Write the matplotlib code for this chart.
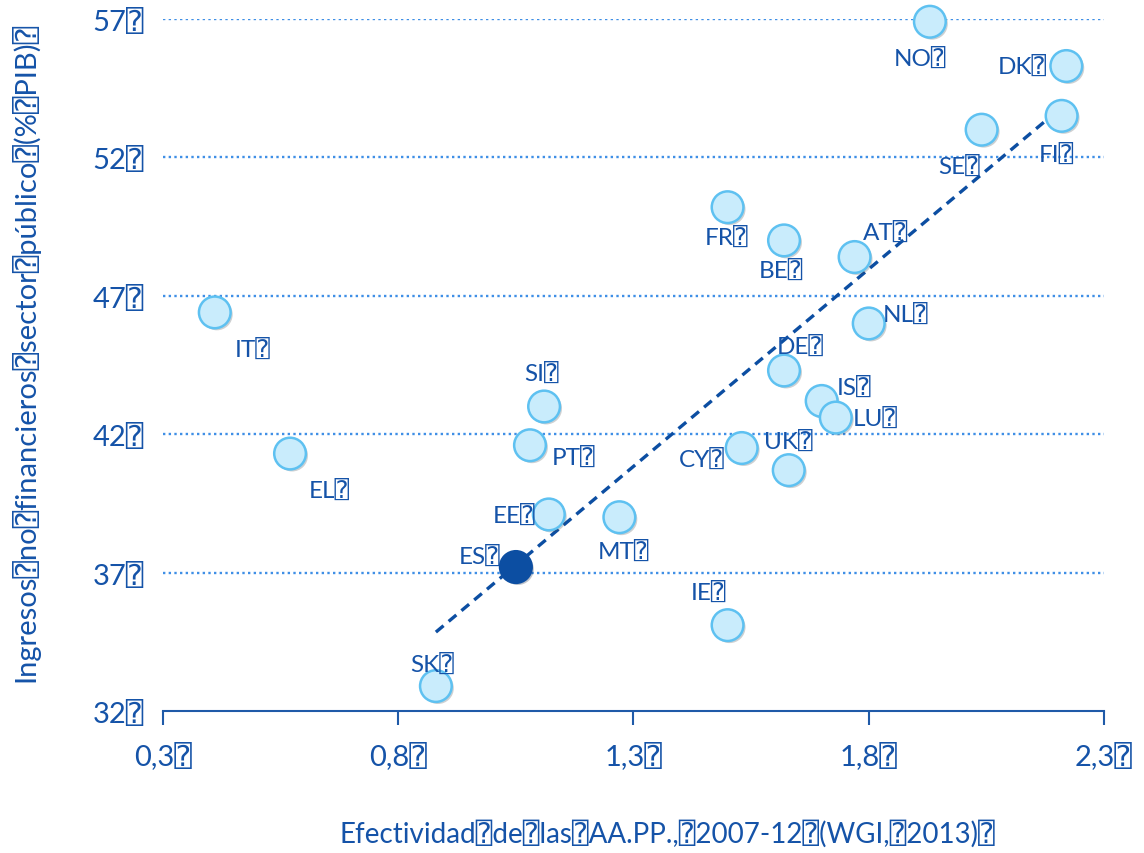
import matplotlib.pyplot as plt
import matplotlib.patheffects as pe

# WGI government effectiveness (x) vs non-financial revenue % GDP (y)
countries = ["NO", "DK", "FI", "SE", "FR", "BE", "AT", "NL", "IT", "DE", "SI",
             "IS", "LU", "PT", "CY", "EL", "UK", "EE", "MT", "ES", "IE", "SK"]
efectividad = [1.93, 2.22, 2.21, 2.04, 1.50, 1.62, 1.77, 1.80, 0.41, 1.62, 1.11,
               1.70, 1.73, 1.08, 1.53, 0.57, 1.63, 1.12, 1.27, 1.05, 1.50, 0.88]
ingresos = [56.9, 55.3, 53.5, 53.0, 50.2, 49.0, 48.4, 46.0, 46.4, 44.3, 43.0,
            43.2, 42.6, 41.6, 41.5, 41.3, 40.7, 39.1, 39.0, 37.2, 35.1, 32.9]
# label offsets in points (dx, dy) and alignment
label_pos = {
    "NO": (-7, -26, "center"), "DK": (-14, 0, "right"), "FI": (-4, -27, "center"),
    "SE": (-16, -26, "center"), "FR": (-1, -21, "center"), "BE": (-2, -21, "center"),
    "AT": (22, 18, "center"), "NL": (10, 7, "left"), "IT": (27, -26, "center"),
    "DE": (12, 18, "center"), "SI": (-2, 24, "center"), "IS": (23, 10, "center"),
    "LU": (12, 0, "left"), "PT": (16, -8, "left"), "CY": (-12, -8, "right"),
    "EL": (28, -26, "center"), "UK": (0, 21, "center"), "EE": (-10, 0, "right"),
    "MT": (3, -24, "center"), "ES": (-11, 8, "right"), "IE": (-14, 24, "center"),
    "SK": (-3, 16, "center"),
}
trend_x = [0.88, 2.22]
trend_y = [34.85, 53.95]

xticks = [0.3, 0.8, 1.3, 1.8, 2.3]
yticks = [32, 37, 42, 47, 52, 57]

BOX = "\u2370"
C_TXT = "#1553a8"
plt.rcParams['font.family'] = ['Lato', 'DejaVu Sans', 'DejaVu Sans Mono']

fig = plt.figure(figsize=(11.44, 8.54), dpi=100)
ax = fig.add_axes([0.1425, 0.1663, 0.8225, 0.8103])

for y in yticks[1:]:
    ax.axhline(y, color="#3f8fe6", lw=1.7, ls=(0, (1, 1.4)), zorder=1)

shadow = [pe.SimplePatchShadow(offset=(1.5, -1.5), alpha=0.25), pe.Normal()]
for c, x, y in zip(countries, efectividad, ingresos):
    es = c == "ES"
    ax.scatter([x], [y], s=520, color="#0c4ea2" if es else "#c9ecfc",
               edgecolors="#0c4ea2" if es else "#5ec1f1", linewidths=1.8,
               zorder=4, clip_on=False, path_effects=shadow)
    dx, dy, ha = label_pos[c]
    ax.annotate(c + BOX, (x, y), xytext=(dx, dy), textcoords="offset points",
                ha=ha, va="center", fontsize=17.5, color=C_TXT, zorder=5)

ax.plot(trend_x, trend_y, color="#0c4ea2", lw=2.4, ls=(0, (3, 2)), zorder=3)

ax.set_xlim(0.3, 2.3)
ax.set_ylim(32, 57)
ax.set_xticks(xticks)
ax.set_xticklabels([f"{t:.1f}".replace(".", ",") + BOX for t in xticks])
ax.set_yticks(yticks)
ax.set_yticklabels([f"{t}" + BOX for t in yticks])
for s in ["top", "right", "left"]:
    ax.spines[s].set_visible(False)
ax.spines["bottom"].set_color("#1f5aa8")
ax.spines["bottom"].set_linewidth(1.5)
ax.tick_params(axis="x", direction="out", length=10, width=1.5, color="#1f5aa8",
               labelsize=21, labelcolor=C_TXT, pad=12)
ax.tick_params(axis="y", length=0, labelsize=21, labelcolor=C_TXT, pad=14)

ax.set_xlabel(BOX.join(["Efectividad", "de", "las", "AA.PP.,", "2007-12", "(WGI,", "2013)"]) + BOX,
              fontsize=20, color=C_TXT, labelpad=36)
ax.set_ylabel(BOX.join(["Ingresos", "no", "financieros", "sector", "público", "(%", "PIB)"]) + BOX,
              fontsize=21, color=C_TXT, labelpad=38)
ax.xaxis.label.set_x(0.536)
ax.yaxis.label.set_y(0.52)

fig.savefig("out.png", dpi=100)
